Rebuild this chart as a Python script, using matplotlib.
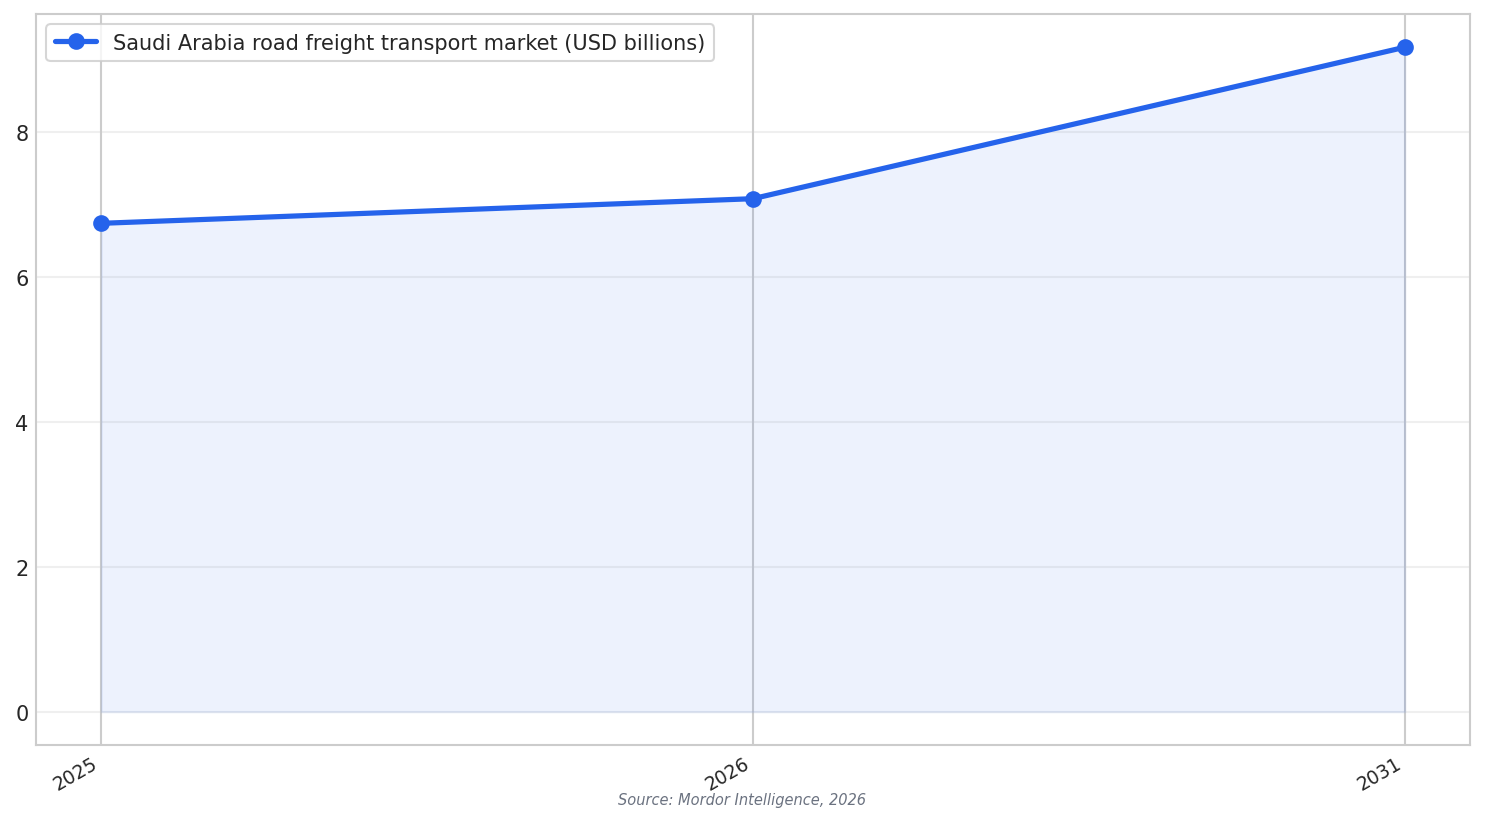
import matplotlib
matplotlib.use("Agg")
import matplotlib.pyplot as plt
import seaborn as sns
import numpy as np

years = ["2025", "2026", "2031"]
values = [6.74, 7.08, 9.17]
series_label = "Saudi Arabia road freight transport market (USD billions)"
source_text = "Source: Mordor Intelligence, 2026"

sns.set_theme(style="whitegrid")
plt.rcParams['font.family'] = ['DejaVu Sans']

fig, ax = plt.subplots(figsize=(9.9, 5.4933), dpi=150)
fig.subplots_adjust(left=36/1485, right=1470/1485, top=1-15/824, bottom=1-746/824)

x = np.arange(len(years))
color = "#2563eb"
ax.plot(x, values, marker="o", color=color, linewidth=2.5, markersize=7, label=series_label)
ax.fill_between(x, values, 0, color=color, alpha=0.08)
ax.set_xticks(x)
ax.set_xticklabels(years, rotation=30, ha="right", fontsize=9)
ax.tick_params(axis="y", labelsize=10, pad=3.5, length=0)
ax.tick_params(axis="x", pad=4, length=0)
for s in ax.spines.values():
    s.set_linewidth(1.0)
ax.grid(axis="y", alpha=0.3)
ax.legend(loc="upper left", fontsize=10)
fig.text(0.5, 1-801/824, source_text, ha="center", va="center", fontsize=7, style="italic", color="#6b7280")

fig.savefig("out.png", dpi=150)
